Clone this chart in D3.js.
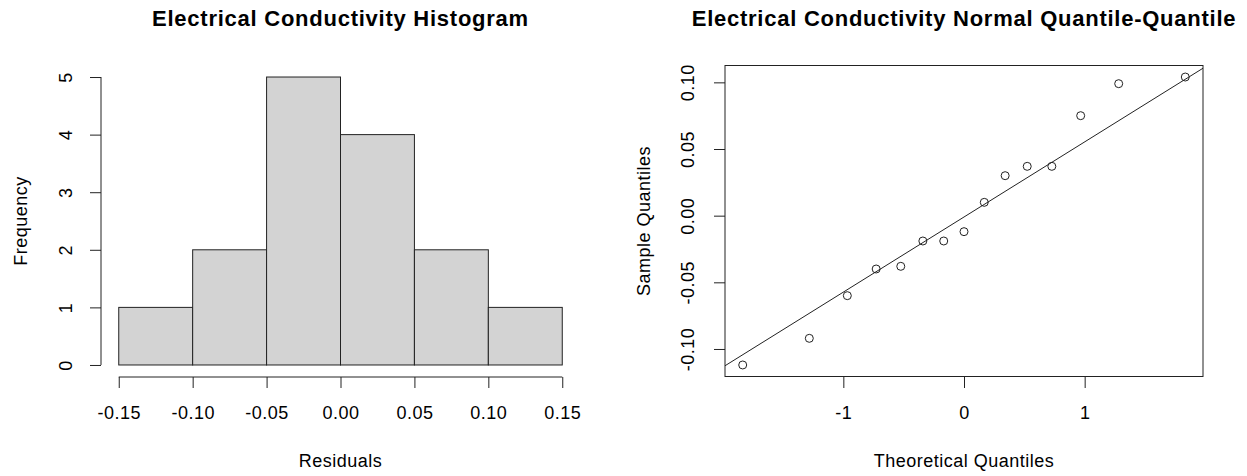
<!DOCTYPE html>
<html>
<head>
<meta charset="utf-8">
<script src="https://cdn.jsdelivr.net/npm/d3@7"></script>
<style>
  html, body { margin: 0; padding: 0; background: #fff; }
  svg text { font-family: "Liberation Sans", Arial, sans-serif; fill: #000; }
</style>
</head>
<body>
<svg id="chart" width="1247" height="476"></svg>
<script>
// ---------- Data ----------
const histTitle = "Electrical Conductivity Histogram";
const histXLabel = "Residuals";
const histYLabel = "Frequency";
const binEdges = [-0.15, -0.10, -0.05, 0.00, 0.05, 0.10, 0.15];
const binCounts = [1, 2, 5, 4, 2, 1];
const histXTicks = [-0.15, -0.10, -0.05, 0.00, 0.05, 0.10, 0.15];
const histYTicks = [0, 1, 2, 3, 4, 5];

const qqTitle = "Electrical Conductivity Normal Quantile-Quantile";
const qqXLabel = "Theoretical Quantiles";
const qqYLabel = "Sample Quantiles";
const theoretical = [-1.834, -1.282, -0.967, -0.728, -0.524, -0.341, -0.168, 0.000,
                     0.168, 0.341, 0.524, 0.728, 0.967, 1.282, 1.834];
const sampleQ = [-0.112, -0.092, -0.060, -0.040, -0.038, -0.019, -0.019, -0.012,
                 0.010, 0.030, 0.037, 0.037, 0.075, 0.099, 0.104];
const qqXTicks = [-1, 0, 1];
const qqYTicks = [-0.10, -0.05, 0.00, 0.05, 0.10];

// ---------- Layout ----------
const svg = d3.select("#chart");
const plotTop = 65.5, plotBottom = 376.5;
const lineCol = "#222";
const labelSize = "18px", labelSpacing = "0.5px";
const loc = d3.formatLocale({ decimal: ".", thousands: ",", grouping: [3], currency: ["", ""], minus: "-" });
const fmt2 = loc.format(".2f"), fmtInt = loc.format("d");

// R-style 4% range extension
function ext(lo, hi) { const d = (hi - lo) * 0.04; return [lo - d, hi + d]; }

// ---------- Histogram ----------
const hx = d3.scaleLinear().domain(ext(d3.min(binEdges), d3.max(binEdges))).range([101, 580]);
const hy = d3.scaleLinear().domain(ext(0, d3.max(histYTicks))).range([plotBottom, plotTop]);

const hg = svg.append("g");
const bins = binCounts.map((c, i) => ({ x0: binEdges[i], x1: binEdges[i + 1], c }));
hg.selectAll("rect.bar").data(bins).join("rect")
  .attr("class", "bar")
  .attr("x", d => hx(d.x0))
  .attr("y", d => hy(d.c))
  .attr("width", d => hx(d.x1) - hx(d.x0))
  .attr("height", d => hy(0) - hy(d.c))
  .attr("fill", "#d3d3d3")
  .attr("stroke", lineCol)
  .attr("stroke-width", 1);

// x axis
const hxAxis = hg.append("g").attr("transform", `translate(0,${plotBottom + 0.5})`)
  .call(d3.axisBottom(hx).tickValues(histXTicks).tickFormat(fmt2).tickSizeOuter(0).tickSizeInner(11).tickPadding(18));
hxAxis.select(".domain").attr("d", `M${hx(histXTicks[0])},0H${hx(histXTicks[histXTicks.length - 1])}`);
// y axis
const hyAxis = hg.append("g").attr("transform", `translate(101,0)`)
  .call(d3.axisLeft(hy).tickValues(histYTicks).tickFormat(fmtInt).tickSizeOuter(0).tickSizeInner(11));
hyAxis.select(".domain").attr("d", `M0,${hy(histYTicks[0])}V${hy(histYTicks[histYTicks.length - 1])}`);

// ---------- QQ plot ----------
const qx = d3.scaleLinear().domain(ext(d3.min(theoretical), d3.max(theoretical))).range([725, 1203]);
const qy = d3.scaleLinear().domain(ext(d3.min(sampleQ), d3.max(sampleQ))).range([plotBottom, plotTop]);

const qg = svg.append("g");
qg.append("rect")
  .attr("x", qx.range()[0]).attr("y", plotTop)
  .attr("width", qx.range()[1] - qx.range()[0]).attr("height", plotBottom - plotTop)
  .attr("fill", "none").attr("stroke", lineCol).attr("stroke-width", 1);

const qxAxis = qg.append("g").attr("transform", `translate(0,${plotBottom + 0.5})`)
  .call(d3.axisBottom(qx).tickValues(qqXTicks).tickFormat(fmtInt).tickSizeOuter(0).tickSizeInner(11).tickPadding(18));
qxAxis.select(".domain").remove();
const qyAxis = qg.append("g").attr("transform", `translate(725,0)`)
  .call(d3.axisLeft(qy).tickValues(qqYTicks).tickFormat(fmt2).tickSizeOuter(0).tickSizeInner(11));
qyAxis.select(".domain").remove();

// qqline through quartiles (R default)
const sorted = sampleQ.slice().sort(d3.ascending);
const yq1 = d3.quantile(sorted, 0.25), yq3 = d3.quantile(sorted, 0.75);
const xq1 = -0.6744898, xq3 = 0.6744898;
const slope = (yq3 - yq1) / (xq3 - xq1);
const intercept = yq1 - slope * xq1;
const [xd0, xd1] = qx.domain();
qg.append("clipPath").attr("id", "qqclip").append("rect")
  .attr("x", 725).attr("y", plotTop).attr("width", 478).attr("height", plotBottom - plotTop);
qg.append("line")
  .attr("clip-path", "url(#qqclip)")
  .attr("x1", qx(xd0)).attr("y1", qy(intercept + slope * xd0))
  .attr("x2", qx(xd1)).attr("y2", qy(intercept + slope * xd1))
  .attr("stroke", lineCol).attr("stroke-width", 1);

qg.selectAll("circle.pt").data(theoretical.map((t, i) => [t, sampleQ[i]])).join("circle")
  .attr("class", "pt")
  .attr("cx", d => qx(d[0])).attr("cy", d => qy(d[1])).attr("r", 4)
  .attr("fill", "none").attr("stroke", lineCol).attr("stroke-width", 1);

// ---------- Axis styling ----------
svg.selectAll(".tick line").attr("stroke", lineCol);
svg.selectAll(".domain").attr("stroke", lineCol);
svg.selectAll(".tick text").style("font-size", labelSize).style("letter-spacing", labelSpacing).attr("fill", "#000");

// rotate y tick labels like R (las = 0)
function rotateY(axisG, cx) {
  axisG.selectAll(".tick text")
    .attr("x", null).attr("dy", null)
    .attr("text-anchor", "middle")
    .attr("dominant-baseline", "central")
    .attr("transform", `translate(${cx},0) rotate(-90)`);
}
rotateY(hyAxis, -35);
rotateY(qyAxis, -37);

// ---------- Titles and labels ----------
function title(txt, cx) {
  svg.append("text").attr("x", cx).attr("y", 26).attr("text-anchor", "middle")
    .style("font-size", "22px").style("font-weight", "bold").style("letter-spacing", "0.75px").text(txt);
}
title(histTitle, (101 + 580) / 2);
title(qqTitle, (725 + 1203) / 2);

function xlab(txt, cx) {
  svg.append("text").attr("x", cx).attr("y", 467).attr("text-anchor", "middle")
    .style("font-size", labelSize).style("letter-spacing", labelSpacing).text(txt);
}
xlab(histXLabel, (101 + 580) / 2);
xlab(qqXLabel, (725 + 1203) / 2);

function ylab(txt, cx) {
  svg.append("text").attr("transform", `translate(${cx},${(plotTop + plotBottom) / 2}) rotate(-90)`)
    .attr("text-anchor", "middle").attr("dominant-baseline", "central")
    .style("font-size", labelSize).style("letter-spacing", labelSpacing).text(txt);
}
ylab(histYLabel, 21);
ylab(qqYLabel, 644);
</script>
</body>
</html>
